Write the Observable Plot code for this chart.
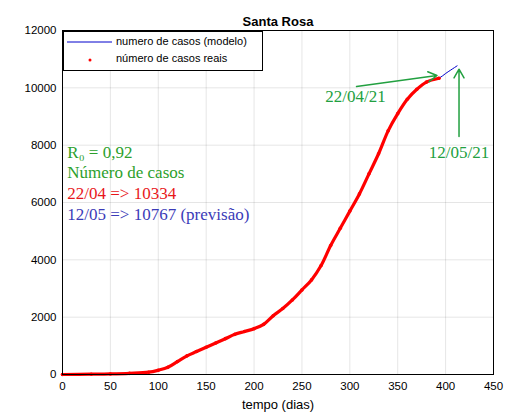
<!DOCTYPE html>
<html><head><meta charset="utf-8">
<script src="https://cdn.jsdelivr.net/npm/d3@7"></script>
<script src="https://cdn.jsdelivr.net/npm/@observablehq/plot@0.6"></script>
<style>
body{margin:0;background:#fff;font-family:"Liberation Sans",Arial,sans-serif}
#wrap{position:relative;width:528px;height:420px}
#legend{position:absolute;left:63px;top:31px;width:198px;height:38px;border:1px solid #000;background:#fff;font-size:11px}
#legend div{position:absolute;left:52px}
</style></head>
<body><div id="wrap"><div id="chart"></div>
<div id="legend">
 <svg width="50" height="38" style="position:absolute;left:0;top:0"><line x1="3" x2="48" y1="10" y2="10" stroke="#0000cc"/><circle cx="26" cy="28" r="1.5" fill="red"/></svg>
 <div style="top:3px">numero de casos (modelo)</div>
 <div style="top:20px">número de casos reais</div>
</div></div>
<script>
// casos reais
const dias = [0,30,50,70,90,100,110,120,130,140,150,160,170,180,190,200,210,220,230,240,250,260,270,280,290,300,310,320,330,340,350,360,370,380,393];
const casos = [0,10,20,40,80,150,250,450,650,800,950,1100,1250,1400,1500,1600,1750,2050,2300,2600,2950,3300,3800,4500,5100,5700,6300,7000,7700,8500,9100,9600,9950,10200,10334];
// previsão do modelo após o último dado
const diasModelo = [393,400,412];
const casosModelo = [10334,10500,10767];

const reais = dias.map((d,i)=>({d, c: casos[i]}));
const modelo = reais.concat(diasModelo.slice(1).map((d,i)=>({d, c: casosModelo[i+1]})));

const notas = [
  {t:"R\u2080 = 0,92", y:152, c:"#2ca02c"},
  {t:"Número de casos", y:172, c:"#2ca02c"},
  {t:"22/04 => 10334", y:193, c:"#e8161b"},
  {t:"12/05 => 10767 (previsão)", y:214, c:"#3b3bb8"}
];
const verde = "#22a040";

const chart = Plot.plot({
  width: 528, height: 420,
  marginLeft: 62, marginRight: 35, marginTop: 30, marginBottom: 46,
  style: {fontFamily: "Liberation Sans, Arial, sans-serif", fontSize: "11.5px"},
  x: {domain:[0,450], ticks: d3.range(0,451,50), grid:true, tickSize:0, tickPadding:7, tickFormat:d=>String(d), label:null},
  y: {domain:[0,12000], ticks: d3.range(0,12001,2000), grid:true, tickSize:0, tickPadding:6, tickFormat:d=>String(d), label:null},
  marks: [
    Plot.line(modelo, {x:"d", y:"c", stroke:"#0000cc", strokeWidth:1, curve:"catmull-rom"}),
    Plot.line(reais, {x:"d", y:"c", stroke:"red", strokeWidth:3.2, curve:"catmull-rom"}),
    Plot.dot(reais, {x:"d", y:"c", fill:"red", r:1.8}),
    Plot.arrow([{x1:307,y1:10045,x2:391,y2:10430}], {x1:"x1",y1:"y1",x2:"x2",y2:"y2", stroke:verde, headLength:10}),
    Plot.arrow([{x1:414,y1:8300,x2:414,y2:10650}], {x1:"x1",y1:"y1",x2:"x2",y2:"y2", stroke:verde, headLength:10}),
    Plot.text([{x:306,y:9700,t:"22/04/21"},{x:414,y:7750,t:"12/05/21"}], {x:"x",y:"y",text:"t", fill:verde, fontFamily:"Liberation Serif, Times New Roman, serif", fontSize:17}),
    Plot.text(notas, {x:()=>5, y:d=>(374-d.y)/0.02867, text:"t", fill:"c", textAnchor:"start", fontFamily:"Liberation Serif, Times New Roman, serif", fontSize:17}),
    Plot.text(["Santa Rosa"], {frameAnchor:"top", dy:-14, fontWeight:"bold", fontSize:13}),
    Plot.text(["tempo (dias)"], {frameAnchor:"bottom", dy:34, fontSize:13}),
    Plot.frame({stroke:"#000"})
  ]
});
document.getElementById("chart").append(chart);
</script></body></html>
